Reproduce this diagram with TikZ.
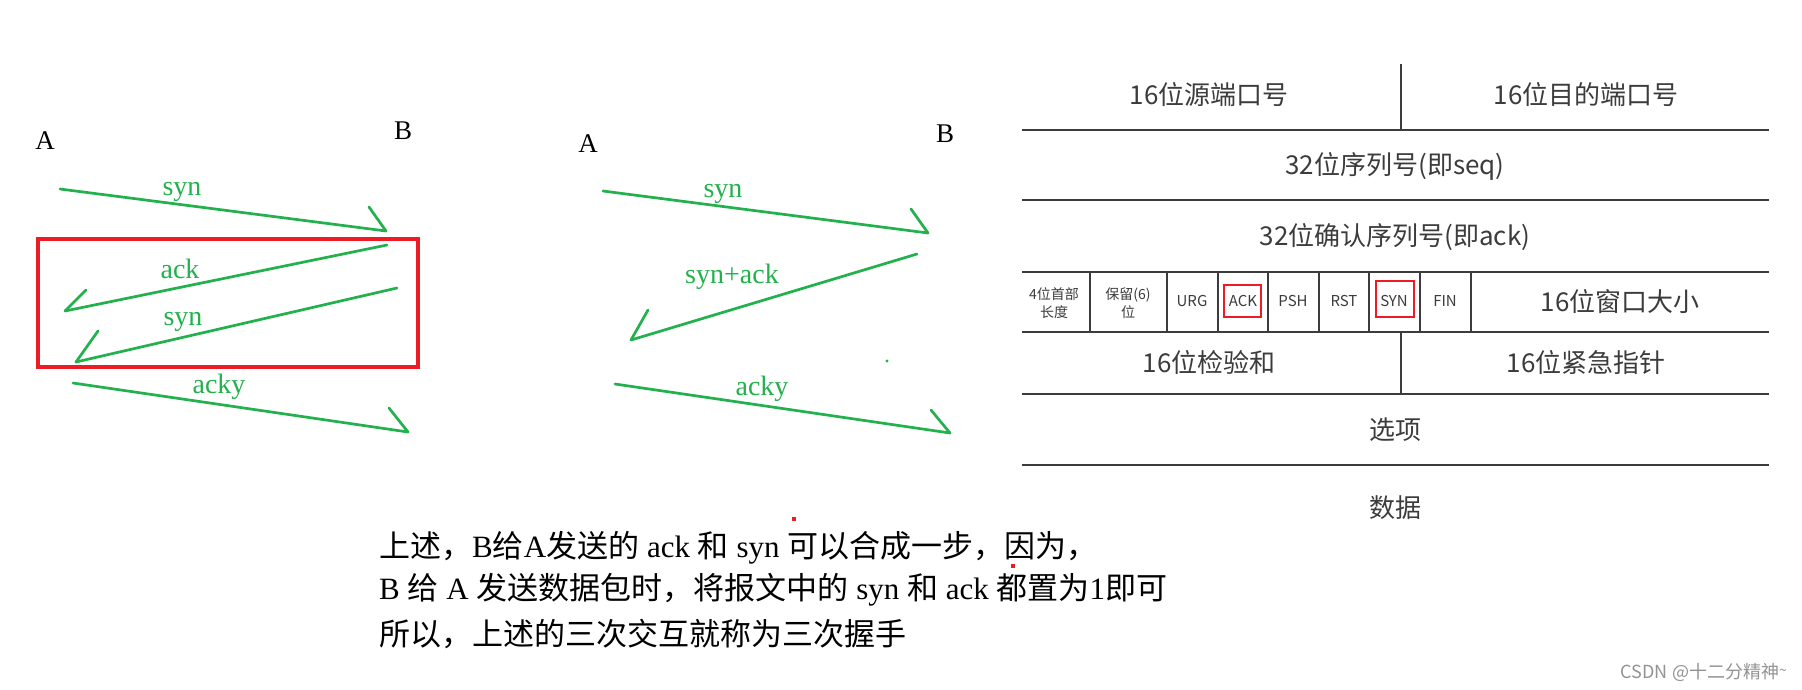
\documentclass[tikz,border=0pt]{standalone}
\usepackage{fontspec}
\usepackage{graphicx}
\setmainfont{Liberation Serif}
\newfontfamily\cjk{Noto Sans CJK SC}
\newfontfamily\wmfont{Noto Sans CJK SC}
\definecolor{pgreen}{HTML}{22B14C}
\definecolor{pred}{HTML}{ED1C24}
\definecolor{tgray}{HTML}{3C3C3C}
\newcommand\zh[1]{{\cjk #1}}
\begin{document}
\begin{tikzpicture}[x=1pt,y=-1pt,
  msg/.style={pgreen, line width=2.7pt, line cap=round},
  lbl/.style={text=pgreen, inner sep=0, anchor=base, font=\fontsize{28}{30}\selectfont},
  host/.style={inner sep=0, anchor=base, font=\fontsize{27}{29}\selectfont},
  rulel/.style={tgray, line width=2pt},
  cell/.style={tgray, line width=1.7pt},
  bigt/.style={text=tgray, inner sep=0, font=\cjk\fontsize{26}{28}\selectfont},
  smallt/.style={text=tgray, inner sep=0, font=\cjk\fontsize{15}{18}\selectfont},
  tinyt/.style={text=tgray, inner sep=0, align=center, font=\cjk\fontsize{14}{18}\selectfont},
  flagbox/.style={draw=pred, line width=2.5pt},
  bodyt/.style={inner sep=0, anchor=base west, font=\fontsize{31}{33}\selectfont}
]
\useasboundingbox (0,0) rectangle (1802,689);
\fill[white] (0,0) rectangle (1802,689);

% ---------- left diagram ----------
\node[host] (A1) at (45,149) {A};
\node[host] (B1) at (403,139) {B};
\coordinate (p1a) at (60,189);  \coordinate (p1b) at (386,231); \coordinate (p1h) at (369,207);
\coordinate (p2a) at (387,245); \coordinate (p2b) at (65,311);  \coordinate (p2h) at (86,290);
\coordinate (p3a) at (397,288); \coordinate (p3b) at (76,362);  \coordinate (p3h) at (98,331);
\coordinate (p4a) at (73,383);  \coordinate (p4b) at (408,432); \coordinate (p4h) at (389,408);
\draw[msg] (p1a) -- (p1b); \draw[msg] (p1h) -- (p1b);
\draw[msg] (p2a) -- (p2b); \draw[msg] (p2h) -- (p2b);
\draw[msg] (p3a) -- (p3b); \draw[msg] (p3h) -- (p3b);
\draw[msg] (p4a) -- (p4b); \draw[msg] (p4h) -- (p4b);
\node[lbl] (l1) at (182,195) {syn};
\node[lbl] (l2) at (180,278) {ack};
\node[lbl] (l3) at (183,325) {syn};
\node[lbl] (l4) at (219,393) {acky};
\draw[pred, line width=3.5pt] (38,239) rectangle (418,367);

% ---------- middle diagram ----------
\node[host] (A2) at (588,152) {A};
\node[host] (B2) at (945,142) {B};
\coordinate (q1a) at (603,191); \coordinate (q1b) at (928,233); \coordinate (q1h) at (911,209);
\coordinate (q2a) at (917,254); \coordinate (q2b) at (631,340); \coordinate (q2h) at (648,310);
\coordinate (q3a) at (615,384); \coordinate (q3b) at (950,433); \coordinate (q3h) at (931,410);
\draw[msg] (q1a) -- (q1b); \draw[msg] (q1h) -- (q1b);
\draw[msg] (q2a) -- (q2b); \draw[msg] (q2h) -- (q2b);
\draw[msg] (q3a) -- (q3b); \draw[msg] (q3h) -- (q3b);
\node[lbl] (m1) at (723,197) {syn};
\node[lbl] (m2) at (732,283) {syn+ack};
\node[lbl] (m3) at (762,395) {acky};
\fill[pgreen] (887,361) circle (1.6);

% ---------- TCP header table ----------
\foreach \yy in {130,200,272,332,394,465} \draw[rulel] (1022,\yy) -- (1769,\yy);
\draw[rulel] (1401,64) -- (1401,130);
\draw[rulel] (1401,332) -- (1401,394);
\foreach \xx in {1090,1167,1218,1268,1319,1369,1420,1471} \draw[cell] (\xx,272) -- (\xx,332);

\node[bigt] (src) at (1209,95) {16位源端口号};
\node[bigt] (dst) at (1586,95) {16位目的端口号};
\node[bigt] (seq) at (1395,166) {32位序列号(即seq)};
\node[bigt] (ackn) at (1395,237) {32位确认序列号(即ack)};
\node[tinyt] (hl) at (1054,303) {4位首部\\长度};
\node[tinyt] (rsv) at (1128,303) {保留(6)\\位};
\node[smallt] (urg) at (1192,301) {URG};
\node[smallt] (fack) at (1243,301) {ACK};
\node[smallt] (psh) at (1293,301) {PSH};
\node[smallt] (rst) at (1344,301) {RST};
\node[smallt] (fsyn) at (1394,301) {SYN};
\node[smallt] (fin) at (1445,301) {FIN};
\node[bigt] (win) at (1620,302) {16位窗口大小};
\node[bigt] (chk) at (1209,363) {16位检验和};
\node[bigt] (urp) at (1586,363) {16位紧急指针};
\node[bigt] (opt) at (1395,430) {选项};
\node[bigt] (dat) at (1395,508) {数据};
\draw[flagbox] (1224,285) rectangle (1261,317);
\draw[flagbox] (1376,281) rectangle (1414,317);

% ---------- explanation text ----------
\node[bodyt] (t1) at (379,557) {\zh{上述，}B\zh{给}A\zh{发送的} ack \zh{和} syn \zh{可以合成一步，因为，}};
\node[bodyt] (t2) at (379,599) {B \zh{给} A \zh{发送数据包时，将报文中的} syn \zh{和} ack \zh{都置为}1\zh{即可}};
\node[bodyt] (t3) at (379,645) {\zh{所以，上述的三次交互就称为三次握手}};
\fill[pred] (792,517) rectangle (796,521);
\fill[pred] (1011,564) rectangle (1015,568);

% ---------- watermark ----------
\node[inner sep=0, anchor=east, text=gray!85, font=\wmfont\fontsize{18}{20}\selectfont] (wm) at (1787,672) {CSDN @十二分精神\raisebox{0.3ex}{\fontsize{14}{16}\selectfont \char"007E}};
\end{tikzpicture}
\end{document}
